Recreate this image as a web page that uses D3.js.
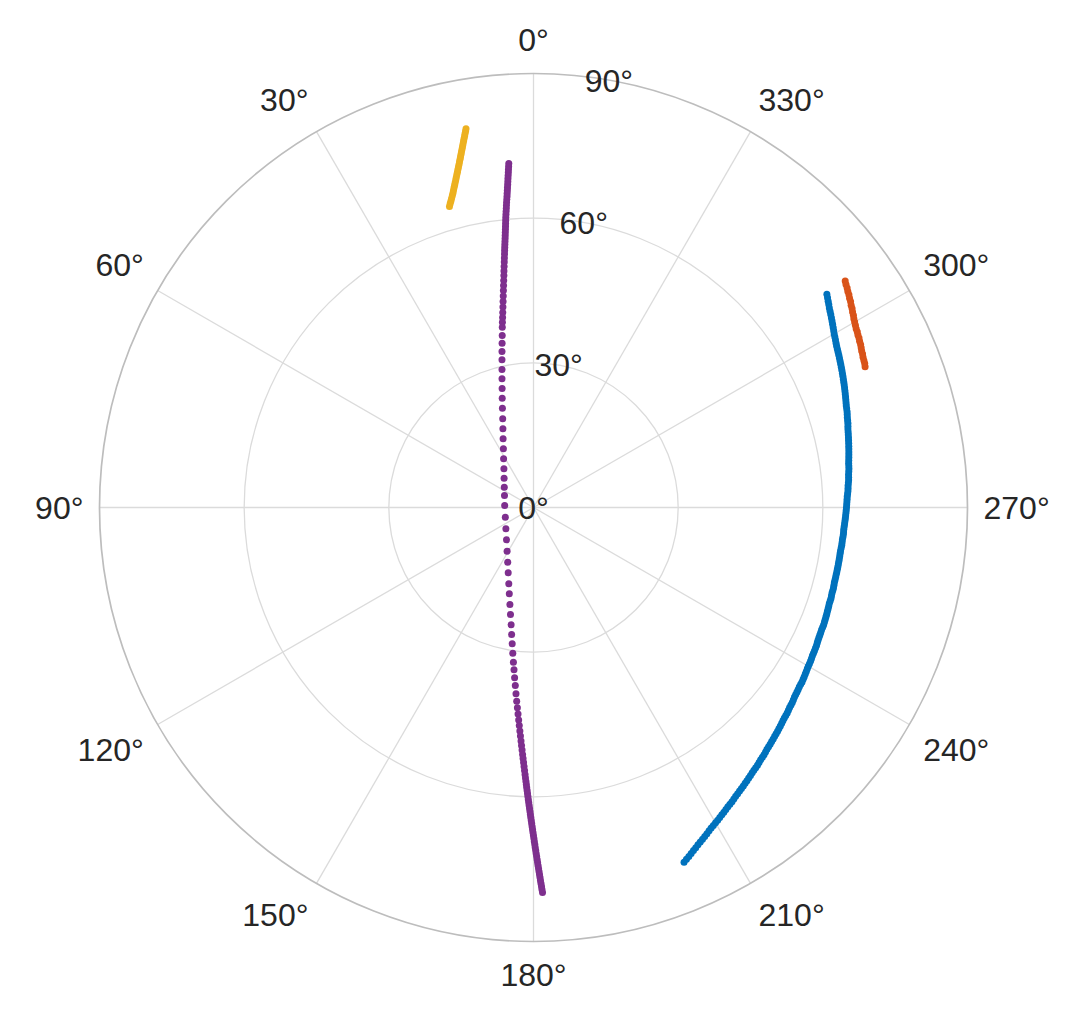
<!DOCTYPE html>
<html>
<head>
<meta charset="utf-8">
<script src="https://cdn.jsdelivr.net/npm/d3@7"></script>
<style>
html,body{margin:0;padding:0;background:#ffffff;}
svg{display:block;}
</style>
</head>
<body>
<svg id="chart" width="1068" height="1017"></svg>
<script>
// ---------- data ----------
const thetaTicks = [0,30,60,90,120,150,180,210,240,270,300,330];
const thetaTickLabels = ["0°","30°","60°","90°","120°","150°","180°","210°","240°","270°","300°","330°"];
const rTicks = [0,30,60,90];
const rTickLabels = ["0°","30°","60°","90°"];

const blueTheta = [306,305.5,305,304.5,304,303.5,303,302.5,302,301.5,301,300.5,300,299.5,299,298.5,298,297.5,297,296.5,296,295.5,295,294.5,294,293.5,293,292.5,292,291.5,291,290.5,290,289.5,289,288.5,288,287.5,287,286.5,286,285.5,285,284.5,284,283.5,283,282.5,282,281.5,281,280.5,280,279.5,279,278.5,278,277.5,277,276.5,276,275.5,275,274.5,274,273.5,273,272.5,272,271.5,271,270.5,270,269.5,269,268.5,268,267.5,267,266.5,266,265.5,265,264.5,264,263.5,263,262.5,262,261.5,261,260.5,260,259.5,259,258.5,258,257.5,257,256.5,256,255.5,255,254.5,254,253.5,253,252.5,252,251.5,251,250.5,250,249.5,249,248.5,248,247.5,247,246.5,246,245.5,245,244.5,244,243.5,243,242.5,242,241.5,241,240.5,240,239.5,239,238.5,238,237.5,237,236.5,236,235.5,235,234.5,234,233.5,233,232.5,232,231.5,231,230.5,230,229.5,229,228.5,228,227.5,227,226.5,226,225.5,225,224.5,224,223.5,223,222.5,222,221.5,221,220.5,220,219.5,219,218.5,218,217.5,217,216.5,216,215.5,215,214.5,214,213.5,213,212.5,212,211.5,211,210.5,210,209.5,209,208.5,208,207.5,207,206.5,206,205.5,205,204.5,204,203.5,203];
const blueR = [75.2,74.9,74.6,74.3,74.0,73.75,73.5,73.25,73.0,72.75,72.5,72.25,72.0,71.8,71.6,71.4,71.2,71.05,70.9,70.75,70.6,70.45,70.3,70.15,70.0,69.85,69.7,69.55,69.4,69.25,69.1,68.95,68.8,68.65,68.5,68.35,68.2,68.1,68.0,67.85,67.7,67.6,67.5,67.35,67.2,67.1,67.0,66.9,66.8,66.7,66.6,66.5,66.4,66.3,66.2,66.1,66.0,65.95,65.9,65.8,65.7,65.65,65.6,65.5,65.4,65.35,65.3,65.2,65.1,65.05,65.0,64.95,64.9,64.85,64.8,64.75,64.7,64.65,64.6,64.55,64.5,64.5,64.5,64.45,64.4,64.4,64.4,64.35,64.3,64.3,64.3,64.3,64.3,64.3,64.3,64.3,64.3,64.3,64.3,64.3,64.3,64.35,64.4,64.4,64.4,64.45,64.5,64.5,64.5,64.55,64.6,64.65,64.7,64.75,64.8,64.85,64.9,64.9,64.9,64.95,65.0,65.05,65.1,65.2,65.3,65.35,65.4,65.45,65.5,65.6,65.7,65.75,65.8,65.9,66.0,66.1,66.2,66.3,66.4,66.45,66.5,66.6,66.7,66.8,66.9,67.05,67.2,67.3,67.4,67.55,67.7,67.8,67.9,68.05,68.2,68.35,68.5,68.65,68.8,68.95,69.1,69.25,69.4,69.55,69.7,69.9,70.1,70.25,70.4,70.6,70.8,70.95,71.1,71.3,71.5,71.7,71.9,72.1,72.3,72.5,72.7,72.9,73.1,73.35,73.6,73.8,74.0,74.25,74.5,74.75,75.0,75.25,75.5,75.75,76.0,76.3,76.6,76.9,77.2,77.5,77.8,78.15,78.5,78.85,79.2,79.55,79.9];

const redTheta = [306.0,305.5,305.0,304.5,304.0,303.5,303.0,302.5,302.0,301.5,301.0,300.5,300.0,299.5,299.0,298.5,298.0,297.5,297.0,296.5,296.0,295.5,295.0,294.5,294.0,293.5,293.0];
const redR = [79.9,79.6,79.4,79.1,78.9,78.6,78.4,78.1,77.9,77.6,77.4,77.1,76.9,76.7,76.5,76.4,76.2,76.1,75.9,75.8,75.6,75.4,75.3,75.1,75.0,74.9,74.7];

const yellowTheta = [10.10,10.24,10.38,10.52,10.67,10.82,10.97,11.12,11.27,11.43,11.59,11.75,11.91,12.08,12.25,12.43,12.61,12.79,12.98,13.17,13.36,13.56,13.76,13.96,14.17,14.38,14.60,14.85,15.10,15.35,15.60];
const yellowR = [79.8,79.3,78.8,78.3,77.8,77.3,76.8,76.3,75.8,75.3,74.8,74.3,73.8,73.3,72.8,72.3,71.8,71.3,70.8,70.3,69.8,69.3,68.8,68.3,67.8,67.3,66.8,66.3,65.8,65.3,64.8];

const purpleTheta = [4.11,4.17,4.24,4.30,4.37,4.44,4.50,4.57,4.65,4.72,4.80,4.87,4.95,5.04,5.12,5.20,5.29,5.37,5.46,5.53,5.61,5.69,5.77,5.86,5.94,6.03,6.12,6.22,6.31,6.41,6.52,6.66,6.79,6.95,7.12,7.28,7.48,7.68,7.90,8.14,8.40,8.67,8.96,9.24,
 9.53,9.82,10.31,10.82,11.42,12.04,12.86,13.75,14.78,15.98,17.39,19.15,21.25,23.87,27.15,31.55,37.41,45.10,55.19,67.52,86.03,108.98,127.66,140.11,148.86,154.75,158.82,162.06,164.34,166.33,167.87,169.19,170.22,171.12,171.91,172.60,173.15,173.67,174.16,174.63,175.04,175.40,
 175.72,176.01,176.27,176.51,176.73,176.94,177.12,177.30,177.47,177.62,177.77,177.91,178.05,178.19,178.30,178.42,178.52,178.61,178.71,178.80,178.89,178.98,179.07,179.16,179.25,179.34,179.42,179.50,179.59,179.67,179.75,179.83,179.91,179.99,180.07,180.14,180.22,180.29,180.37,180.44,180.52,180.59,180.66,180.73,180.80,180.87,180.94,181.01,181.07,181.14,181.21,181.27,181.34];
const purpleR = [71.52,70.90,70.28,69.67,69.05,68.43,67.81,67.20,66.58,65.96,65.34,64.73,64.11,63.50,62.88,62.26,61.65,61.03,60.41,59.80,59.18,58.56,57.94,57.33,56.71,56.09,55.48,54.86,54.25,53.63,52.91,52.09,51.27,50.35,49.43,48.50,47.48,46.46,45.43,44.31,43.19,42.06,40.94,39.92,
 38.96,37.95,36.25,34.69,33.00,31.32,29.35,27.48,25.52,23.58,21.58,19.47,17.51,15.58,13.68,11.85,10.10,8.61,7.38,6.51,5.99,6.18,7.23,8.73,10.59,12.54,14.52,16.63,18.59,20.70,22.70,24.76,26.72,28.61,30.52,32.35,33.90,35.53,37.10,38.80,40.32,41.67,
 42.94,44.17,45.30,46.43,47.46,48.49,49.42,50.34,51.27,52.10,52.92,53.75,54.57,55.40,56.12,56.84,57.46,58.08,58.70,59.32,59.94,60.56,61.18,61.80,62.43,63.05,63.67,64.29,64.91,65.53,66.15,66.77,67.40,68.02,68.64,69.26,69.89,70.51,71.13,71.75,72.38,73.00,73.62,74.25,74.87,75.49,76.12,76.74,77.37,77.99,78.61,79.24,79.86];

const seriesColors = ["#0072BD","#D95319","#EDB120","#7E2F8E"];

// ---------- layout ----------
const cx = 533.5, cy = 507.5, R = 434;
const fontSize = 32;
const fontFamily = "'Liberation Sans', Arial, Helvetica, sans-serif";
const dotRadius = 3.5;

const svg = d3.select("#chart");
const rScale = d3.scaleLinear().domain([0, 90]).range([0, R]);
// theta measured counter-clockwise from the top
const aScale = d3.scaleLinear().domain([0, 360]).range([0, -2 * Math.PI]);
function pos(theta, r) {
  const a = aScale(theta), rr = rScale(r);
  return [cx + rr * Math.sin(a), cy - rr * Math.cos(a)];
}

const g = svg.append("g");

// spokes
g.selectAll("line.spoke").data(thetaTicks).join("line")
  .attr("class", "spoke")
  .attr("x1", cx).attr("y1", cy)
  .attr("x2", d => pos(d, 90)[0]).attr("y2", d => pos(d, 90)[1])
  .attr("stroke", "#dbdbdb").attr("stroke-width", 1.3);

// inner rings
g.selectAll("circle.ring").data(rTicks.filter(d => d > 0 && d < 90)).join("circle")
  .attr("class", "ring")
  .attr("cx", cx).attr("cy", cy).attr("r", d => rScale(d))
  .attr("fill", "none").attr("stroke", "#dbdbdb").attr("stroke-width", 1.3);

// outer ring
g.append("circle").attr("cx", cx).attr("cy", cy).attr("r", rScale(90))
  .attr("fill", "none").attr("stroke", "#bdbdbd").attr("stroke-width", 1.7);

// data
const series = [
  {theta: blueTheta, r: blueR, color: seriesColors[0]},
  {theta: redTheta, r: redR, color: seriesColors[1]},
  {theta: yellowTheta, r: yellowR, color: seriesColors[2]},
  {theta: purpleTheta, r: purpleR, color: seriesColors[3]}
];
series.forEach(s => {
  const pts = s.theta.map((t, i) => pos(t, s.r[i]));
  g.append("g").selectAll("circle").data(pts).join("circle")
    .attr("cx", d => d[0]).attr("cy", d => d[1]).attr("r", dotRadius)
    .attr("fill", s.color);
});

// theta tick labels
const D = 450;
thetaTicks.forEach((t, i) => {
  const txt = g.append("text")
    .attr("font-family", fontFamily).attr("font-size", fontSize)
    .attr("fill", "#262626").text(thetaTickLabels[i]);
  const w = txt.node().getComputedTextLength();
  const a = aScale(t);
  const ux = Math.sin(a), uy = -Math.cos(a);
  const px = cx + D * ux, py = cy + D * uy;
  let x, y;
  if (ux > 0.01) x = px + w / 2; else if (ux < -0.01) x = px - w / 2; else x = px;
  if (uy > 0.01) y = py + 0.905 * fontSize;
  else if (uy < -0.01) y = py - 0.212 * fontSize;
  else y = py + 0.3465 * fontSize;
  txt.attr("x", x).attr("y", y).attr("text-anchor", "middle");
});

// r tick labels (placed along 10° clockwise from top)
rTicks.forEach((r, i) => {
  const p = pos(350, r);
  g.append("text")
    .attr("font-family", fontFamily).attr("font-size", fontSize)
    .attr("fill", "#262626")
    .attr("x", p[0]).attr("y", p[1] + 0.358 * fontSize)
    .attr("text-anchor", "middle")
    .text(rTickLabels[i]);
});
</script>
</body>
</html>
